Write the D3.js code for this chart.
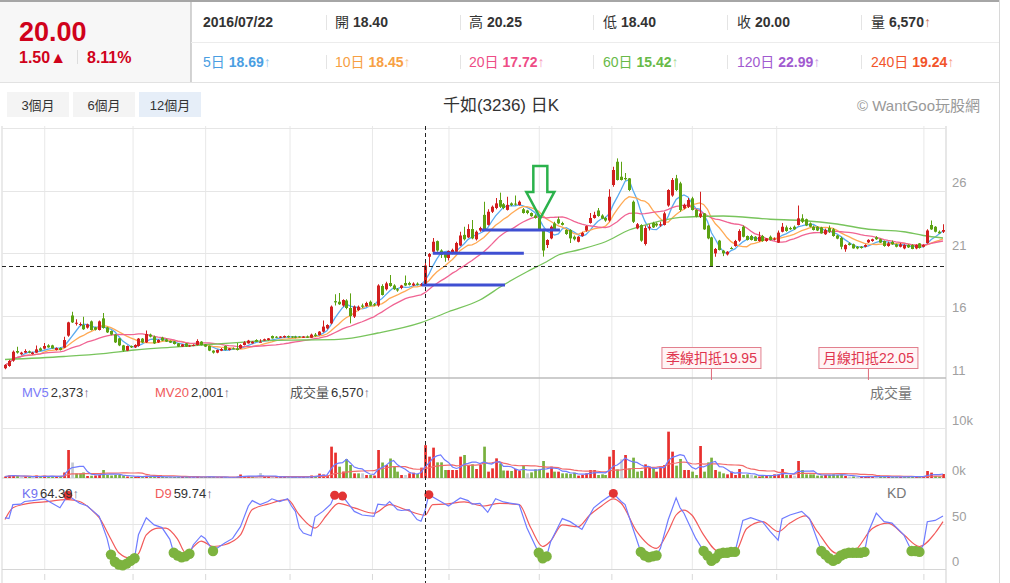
<!DOCTYPE html>
<html>
<head>
<meta charset="utf-8">
<title>千如(3236) 日K</title>
<script src="https://cdn.jsdelivr.net/npm/d3@7/dist/d3.min.js"></script>
<style>
  body { margin: 0; background: #fff; }
  svg text { font-family: "Liberation Sans", Arial, "Noto Sans CJK TC", sans-serif; }
</style>
</head>
<body>
<svg id="chart" width="1010" height="583"></svg>
<script>
(function () {

  'use strict';

  // daily candles: [open, high, low, close]
  var candles = [
    [11.78,12.1,11.7,12.04],[11.96,12.45,11.9,12.36],[12.39,13.2,12.3,13.1],[13.16,13.5,12.95,13.03],[12.9,13.1,12.85,13.03],
    [13.03,13.3,13.0,13.16],[13.13,13.2,12.98,13.03],[12.92,13.1,12.88,13.03],[13.03,13.6,13.0,13.29],[13.37,13.45,13.15,13.19],
    [13.35,13.8,13.3,13.56],[13.61,13.7,13.42,13.45],[13.61,13.66,13.35,13.37],[13.24,13.45,13.2,13.4],[13.4,13.45,13.2,13.24],
    [13.43,14.3,13.4,14.04],[14.39,15.5,14.3,15.45],[16.0,16.3,15.4,15.45],[15.4,15.7,15.2,15.42],[15.3,15.45,15.15,15.32],
    [15.24,15.9,14.85,14.9],[15.03,15.35,14.95,15.29],[15.53,15.6,14.8,14.84],[15.05,15.1,14.8,14.86],[14.84,15.6,14.8,15.53],
    [15.77,16.2,14.95,15.0],[15.05,15.1,14.6,14.65],[14.76,14.8,14.42,14.47],[14.47,14.5,13.8,13.85],[14.17,14.2,13.55,13.61],
    [13.61,13.65,13.1,13.19],[13.19,13.6,13.15,13.56],[13.56,13.6,13.4,13.45],[13.45,13.7,13.4,13.64],[13.56,14.2,13.5,14.15],
    [14.15,14.2,13.8,13.85],[13.85,14.8,13.8,14.52],[14.47,14.55,14.25,14.31],[14.31,14.4,13.72,13.77],[13.85,14.1,13.8,14.04],
    [14.23,14.3,13.95,13.99],[14.09,14.15,13.88,13.91],[13.96,14.0,13.8,13.83],[13.93,13.96,13.68,13.72],[13.77,13.8,13.48,13.51],
    [13.51,13.72,13.48,13.69],[13.77,13.8,13.48,13.51],[13.58,13.65,13.5,13.6],[13.6,13.7,13.55,13.64],[13.64,14.1,13.6,13.96],
    [13.91,13.95,13.6,13.64],[13.69,13.72,13.48,13.51],[13.56,13.6,13.15,13.19],[13.19,13.22,12.95,13.03],[13.03,13.28,12.98,13.24],
    [13.19,13.4,13.15,13.32],[13.56,13.6,13.2,13.24],[13.24,13.4,13.2,13.37],[13.37,13.45,13.3,13.35],[13.37,13.8,13.2,13.24],
    [13.37,13.7,13.33,13.64],[13.64,13.95,13.6,13.85],[13.77,14.05,13.75,13.99],[13.77,13.95,13.75,13.9],[14.04,14.1,13.88,13.9],
    [13.86,14.1,13.85,13.9],[14.0,14.15,13.98,14.1],[14.04,14.2,14.0,14.17],[14.36,14.4,14.15,14.17],[14.3,14.35,14.2,14.24],
    [14.22,14.35,14.2,14.32],[14.25,14.4,14.22,14.36],[14.36,14.4,14.22,14.25],[14.32,14.35,14.2,14.26],[14.32,14.38,14.18,14.22],
    [14.32,14.35,14.22,14.26],[14.22,14.35,14.2,14.32],[14.32,14.4,14.2,14.22],[14.22,14.55,14.2,14.47],[14.47,14.6,14.3,14.36],
    [14.44,14.75,14.4,14.71],[14.71,15.6,14.65,15.11],[14.97,15.3,14.9,15.24],[15.37,16.8,15.3,16.71],[17.15,17.7,16.8,17.05],
    [17.1,17.8,16.85,16.9],[16.8,17.3,16.7,17.24],[17.2,17.3,16.5,16.6],[16.6,17.77,15.37,15.95],[15.91,16.8,15.8,16.71],
    [16.44,16.8,16.35,16.7],[16.8,16.95,16.6,16.7],[16.75,17.1,16.7,17.0],[17.1,17.2,16.75,16.8],[16.9,17.0,16.75,16.85],
    [16.8,18.5,16.7,18.4],[18.36,18.5,17.6,17.64],[18.1,18.7,18.0,18.57],[18.6,19.24,18.3,18.36],[18.4,18.5,18.05,18.1],
    [18.1,18.2,17.9,18.0],[18.2,18.45,18.1,18.4],[18.6,19.2,18.35,18.4],[18.6,18.7,18.4,18.45],[18.4,18.65,18.35,18.55],
    [18.55,18.65,18.4,18.45],[18.4,18.6,18.35,18.5],[18.4,20.25,18.4,20.0],[20.7,21.0,19.9,20.92],[21.1,22.2,21.0,21.9],
    [21.95,22.0,21.1,21.2],[21.2,21.3,20.6,20.85],[20.95,21.0,20.3,20.63],[20.6,21.2,20.4,21.16],[21.0,21.35,20.9,21.25],
    [21.1,21.9,21.05,21.8],[21.6,22.7,21.55,22.4],[22.45,23.1,22.0,22.1],[22.25,23.3,22.2,22.92],[22.92,23.64,22.1,22.17],
    [22.1,22.8,22.0,22.7],[22.8,23.1,22.7,23.0],[24.05,25.1,22.85,22.9],[23.25,24.5,23.2,24.3],[24.3,24.8,24.2,24.7],
    [24.6,25.4,24.5,24.97],[25.24,25.83,24.6,24.7],[24.9,25.0,24.5,24.6],[24.45,25.5,24.4,24.85],[24.97,25.05,24.75,24.84],
    [24.95,25.6,24.8,24.9],[24.84,25.2,24.8,25.1],[24.5,24.6,24.15,24.2],[24.4,24.45,24.1,24.2],[24.2,24.25,23.9,23.95],
    [24.0,24.1,23.75,23.8],[23.8,23.85,22.85,22.9],[22.9,22.95,20.71,21.2],[21.64,22.1,21.4,22.04],[22.17,23.2,22.1,23.1],
    [23.37,23.5,22.85,22.92],[23.7,23.9,23.3,23.37],[23.4,23.5,23.2,23.25],[22.84,22.9,22.45,22.52],[22.84,22.9,21.8,22.17],
    [22.3,22.4,22.0,22.1],[21.9,22.35,21.85,22.3],[22.36,22.7,22.3,22.6],[22.8,23.2,22.7,23.15],[23.4,24.2,23.35,23.8],
    [23.8,24.3,23.75,24.05],[24.4,24.6,23.9,23.96],[24.0,24.1,23.7,23.75],[23.8,23.9,23.5,23.6],[23.6,26.1,23.5,25.5],
    [26.44,27.9,26.3,27.64],[28.3,28.57,26.8,26.84],[27.1,28.3,26.8,26.84],[27.0,27.4,26.8,26.9],[26.97,27.0,25.95,26.04],
    [25.1,25.2,23.4,23.5],[22.97,23.4,22.9,23.3],[23.24,23.3,21.9,21.99],[21.72,23.2,21.6,23.0],[23.0,23.3,22.8,23.1],
    [23.4,23.5,23.0,23.05],[23.35,23.45,23.1,23.2],[23.2,23.5,23.1,23.3],[23.24,24.3,23.2,24.17],[24.8,26.1,24.7,26.04],
    [25.6,27.0,25.5,26.84],[26.97,27.25,25.95,26.04],[26.57,26.7,24.3,24.44],[24.57,24.95,24.5,24.84],[24.7,25.4,24.6,25.24],
    [25.37,25.5,24.4,24.44],[24.44,24.5,23.85,23.9],[23.9,25.9,23.8,24.17],[24.17,24.2,22.85,22.89],[23.19,23.25,22.1,22.17],
    [22.25,22.3,19.9,19.95],[20.97,21.4,20.7,21.32],[21.99,22.05,21.2,21.24],[21.19,21.25,20.75,20.97],[20.89,21.15,20.8,21.1],
    [21.4,21.5,21.3,21.35],[21.56,22.05,21.5,21.96],[21.99,22.9,21.9,22.76],[23.1,23.2,22.25,22.3],[22.36,22.4,22.0,22.04],
    [22.36,22.45,22.0,22.04],[22.3,22.35,21.95,21.96],[21.96,22.7,21.9,22.3],[22.36,22.45,21.9,21.96],[21.96,22.2,21.9,22.17],
    [22.3,22.4,22.0,22.04],[22.1,22.25,22.0,22.15],[21.83,22.8,21.8,22.63],[22.7,23.4,22.65,23.1],[23.05,23.2,22.7,22.76],
    [23.0,23.1,22.85,22.9],[23.1,23.2,22.85,22.9],[23.24,24.8,23.2,23.77],[23.77,24.1,23.4,23.5],[23.7,23.75,23.15,23.2],
    [23.37,23.45,23.05,23.1],[23.1,23.2,22.8,22.84],[23.1,23.15,22.75,22.8],[23.05,23.1,22.55,22.57],[22.5,22.95,22.45,22.84],
    [23.0,23.2,22.6,22.7],[22.9,23.0,22.3,22.36],[22.4,22.45,22.1,22.15],[22.2,22.3,21.3,21.5],[21.3,21.7,21.1,21.64],
    [21.77,21.85,21.6,21.64],[21.7,21.75,21.35,21.37],[21.5,21.55,21.3,21.37],[21.5,21.55,21.35,21.4],[21.5,21.7,21.45,21.64],
    [21.85,22.1,21.8,22.05],[21.96,22.15,21.9,22.1],[22.26,22.35,22.05,22.1],[22.1,22.15,21.8,21.83],[21.96,22.0,21.5,21.56],
    [21.56,21.9,21.5,21.77],[21.88,22.0,21.65,21.69],[21.69,21.75,21.45,21.5],[21.5,21.8,21.45,21.69],[21.37,21.7,21.3,21.64],
    [21.64,21.7,21.4,21.45],[21.64,21.7,21.3,21.32],[21.37,21.7,21.3,21.64],[21.77,21.8,21.35,21.4],[21.5,21.7,21.45,21.64],
    [21.8,22.9,21.75,22.8],[23.24,23.6,22.85,22.89],[23.1,23.15,22.65,22.7],[22.7,22.8,22.55,22.57],[22.7,23.3,22.6,22.84]
  ];

  // daily volume (lots)
  var volumes = [
    300, 500, 600, 400, 200, 300, 250, 200, 500, 250,
    450, 300, 350, 200, 250, 1100, 5600, 3100, 900, 900,
    1100, 400, 450, 500, 600, 1600, 600, 500, 600, 600,
    500, 300, 200, 250, 400, 250, 450, 250, 300, 200,
    250, 200, 150, 200, 250, 200, 200, 150, 150, 300,
    200, 200, 250, 200, 150, 200, 150, 100, 150, 200,
    700, 400, 350, 250, 200, 1000, 250, 300, 250, 150,
    200, 250, 150, 150, 200, 150, 200, 150, 500, 350,
    870, 700, 500, 6270, 5070, 2270, 1300, 3800, 2600, 930,
    930, 930, 600, 600, 500, 5600, 3100, 2600, 3900, 2300,
    1270, 600, 600, 930, 1070, 800, 2070, 6570, 4270, 6070,
    3130, 3130, 1600, 1600, 1600, 1600, 4270, 4600, 2600, 2730,
    1800, 2600, 6270, 1270, 1930, 3930, 2930, 1500, 1470, 1400,
    1800, 1470, 2600, 930, 1130, 1730, 1730, 3400, 1070, 2270,
    1270, 1270, 930, 930, 800, 1070, 470, 600, 930, 1600,
    1600, 600, 730, 600, 4270, 5600, 1730, 3730, 4600, 1930,
    4070, 1270, 1400, 2730, 2270, 1930, 1270, 2270, 2600, 9270,
    5270, 2470, 3800, 1600, 1600, 1270, 600, 6400, 1270, 3130,
    4070, 1600, 1270, 930, 730, 1270, 600, 1800, 600, 730,
    600, 470, 300, 600, 470, 600, 730, 730, 1800, 600,
    600, 470, 3400, 1600, 730, 730, 730, 470, 470, 600,
    600, 730, 600, 730, 400, 300, 300, 250, 200, 300,
    250, 300, 250, 300, 200, 250, 200, 250, 200, 300,
    250, 300, 250, 300, 250, 1400, 1070, 400, 300, 800
  ];

  // 60-day line (its start needs days not shown)
  var ma60Index = [0, 15, 25, 33, 42, 50, 59, 67, 76, 85, 95, 106, 113, 121, 127, 133, 138, 141, 146, 153, 159, 164, 172, 178, 183, 195, 203, 212, 220, 229, 234, 239];
  var ma60Value = [12.48, 12.72, 12.95, 13.24, 13.45, 13.64, 13.83, 13.99, 14.04, 14.09, 14.6, 15.43, 16.3, 17.24, 18.44, 19.5, 20.3, 20.84, 21.24, 21.9, 22.84, 23.32, 23.85, 23.93, 23.96, 23.7, 23.6, 23.32, 22.9, 22.7, 22.4, 22.2];

  // K9 and D9: [candle index, value]
  var kPoints = [
    [0,57],[1,56],[2,71.5],[4,72],[5,75],[7,76],[10,78],[12,73],[14,68],[16,82],[17,79],[19,73],[21,70],[22,66],
    [24,58.5],[26,34],[27,16],[28,8],[29,5],[30,4],[31,6],[32,9],[33,12],[34,38],[36,57],[38,49],[40,46],[42,33],
    [43,18],[44,15],[45,13],[46,14],[47,17],[48,27],[50,37],[51,34],[53,20],[54,23],[56,29],[58,34],[60,47],[62,70],
    [63,76],[65,71.5],[67,75],[68,78],[70,75],[72,78],[73,70],[74,64],[75,45.5],[76,40],[78,37],[79,58],[81,64],[83,72],
    [84,82],[86,81],[89,64],[91,60],[94,58.5],[95,72],[97,71],[98,75],[100,66],[101,65],[103,66],[105,55],[106,53],
    [107,64.39],[108,82.6],[111,75],[113,70],[116,79],[118,76],[119,72],[121,73],[123,63],[125,78],[127,74.5],[129,73],
    [131,71.5],[133,45.5],[135,27],[136,18],[137,12],[138,14],[139,30],[142,56],[144,52.6],[147,44],[148,52],[150,68],
    [152,75],[155,84],[157,75],[158,71.5],[160,45],[162,19],[163,15],[164,13],[165,14],[166,15],[167,23],[169,55],
    [170,67],[171,79],[172,68],[173,62],[174,52.6],[176,34],[178,20],[179,15],[180,9],[181,12],[182,17],[183,18],
    [184,18],[185,19],[186,19],[188,54],[190,57],[193,52.6],[195,41.5],[197,32],[198,56],[200,60],[203,64],[205,56],
    [208,20],[209,16],[210,12],[211,9],[212,11],[213,15],[214,17],[215,18],[216,18],[217,18],[218,18],[219,19],
    [220,41.5],[222,62],[224,52.6],[226,51],[229,38],[231,20],[232,20],[233,19],[234,27],[235,52.6],[237,54],[239,59]
  ];
  var dPoints = [
    [0,55],[2,68],[5,72],[10,74.5],[16,77],[19,75],[22,66],[24,57],[27,33],[29,18],[32,12],[34,17],[36,38],[39,45.5],
    [41,45.5],[44,33],[46,18],[50,31],[53,25],[56,27],[60,38],[63,66],[67,72],[72,77],[75,60],[79,45.5],[82,60],
    [85,73],[89,68],[94,62],[98,71.5],[102,66],[107,59.74],[109,71.5],[112,72],[117,74.5],[122,70],[126,73],[131,71.5],
    [134,45.5],[137,25],[139,31],[142,49],[146,47],[149,60],[152,70],[155,78],[157,73],[161,41.5],[166,23],[169,42],
    [171,60],[173,65.5],[175,60],[178,38],[182,19],[186,19],[189,45],[193,52.6],[197,41.5],[200,51],[204,59],[207,41.5],
    [212,17.4],[216,19],[221,45],[225,51],[229,38],[233,25],[237,40],[239,52.6]
  ];

  var priceTicks = [11, 16, 21, 26];
  var volumeTicks = [0, 10000];
  var kdTicks = [0, 50];
  var monthTicks = [10, 32.5, 51, 72.5, 93.5, 113, 136, 154.5, 175, 196.5, 234];

  var hoverIndex = 107;
  var hoverDate = '2016/07/22';
  var quoteLabels = ['開', '高', '低', '收', '量'];
  var quoteValues = ['18.40', '20.25', '18.40', '20.00', '6,570'];
  var maLabels = ['5日', '10日', '20日', '60日', '120日', '240日'];
  var maValues = ['18.69', '18.45', '17.72', '15.42', '22.99', '19.24'];
  var maColors = ['#4a9ee2', '#f7a043', '#ee4d86', '#68ba48', '#a15ad0', '#f2542a'];

  // hand drawn marks: [price, from index, to index]
  var supportLines = [[18.44, 106.2, 127.4], [20.98, 109, 132.2], [22.84, 121.4, 141.4]];
  var arrowMark = { index: 136.4, top: 27.96, tip: 23.8 };
  var deductLabels = ['季線扣抵', '月線扣抵'];
  var deductValues = ['19.95', '22.05'];
  var deductIndex = [180, 220];

  var svg = d3.select('#chart');
  var plotLeft = 2, plotRight = 946;

  var x = d3.scaleLinear().domain([0, candles.length - 1]).range([5, 943]);
  var yPrice = d3.scaleLinear().domain([11, 31]).range([378, 128]);
  var yVol = d3.scaleLinear().domain([0, 20000]).range([478, 378]);
  var yKD = d3.scaleLinear().domain([0, 100]).range([569, 479]);

  var closes = candles.map(function (c) { return c[3]; });

  function movingAverage(values, n) {
    return values.map(function (v, i) {
      return d3.mean(values.slice(Math.max(0, i - n + 1), i + 1));
    });
  }

  // ---------- header ----------
  svg.append('rect').attr('x', 0).attr('y', 2).attr('width', 191).attr('height', 80).attr('fill', '#f7f7f7');
  svg.append('line').attr('x1', 0).attr('x2', 1000).attr('y1', 1).attr('y2', 1).attr('stroke', '#888').attr('stroke-width', 1.5);
  svg.append('line').attr('x1', 191).attr('x2', 191).attr('y1', 2).attr('y2', 82).attr('stroke', '#aaa');
  svg.append('line').attr('x1', 191).attr('x2', 1000).attr('y1', 42.5).attr('y2', 42.5).attr('stroke', '#ececec');
  svg.append('line').attr('x1', 0).attr('x2', 1000).attr('y1', 82.5).attr('y2', 82.5).attr('stroke', '#e2e2e2');
  svg.append('line').attr('x1', 999.5).attr('x2', 999.5).attr('y1', 0).attr('y2', 583).attr('stroke', '#d8d8d8');

  svg.append('text').attr('x', 19).attr('y', 41).attr('font-size', 27).attr('font-weight', 'bold')
    .attr('fill', '#d0021b').text(quoteValues[3]);
  svg.append('text').attr('x', 19).attr('y', 63).attr('font-size', 16).attr('font-weight', 'bold')
    .attr('fill', '#d0021b').text('1.50▲');
  svg.append('line').attr('x1', 77.5).attr('x2', 77.5).attr('y1', 50).attr('y2', 64).attr('stroke', '#ddd');
  svg.append('text').attr('x', 87).attr('y', 63).attr('font-size', 16).attr('font-weight', 'bold')
    .attr('fill', '#d0021b').text('8.11%');

  var cellX = [203, 335, 469, 603, 737, 871];
  [326, 460, 593, 727, 861].forEach(function (sx) {
    svg.append('line').attr('x1', sx + 0.5).attr('x2', sx + 0.5).attr('y1', 15).attr('y2', 30).attr('stroke', '#e4e4e4');
    svg.append('line').attr('x1', sx + 0.5).attr('x2', sx + 0.5).attr('y1', 55).attr('y2', 69).attr('stroke', '#e4e4e4');
  });

  svg.append('text').attr('x', cellX[0]).attr('y', 27).attr('font-size', 14).attr('font-weight', 'bold')
    .attr('fill', '#333').text(hoverDate);
  quoteLabels.forEach(function (lab, i) {
    var t = svg.append('text').attr('x', cellX[i + 1]).attr('y', 27).attr('font-size', 14).attr('fill', '#333');
    t.append('tspan').text(lab + ' ');
    t.append('tspan').attr('font-weight', 'bold').text(quoteValues[i]);
    if (lab === '量') t.append('tspan').attr('fill', '#c9785a').text('↑');
  });
  maLabels.forEach(function (lab, i) {
    var t = svg.append('text').attr('x', cellX[i]).attr('y', 67).attr('font-size', 14).attr('fill', maColors[i]);
    t.append('tspan').text(lab + ' ');
    t.append('tspan').attr('font-weight', 'bold').text(maValues[i]);
    t.append('tspan').attr('fill-opacity', 0.6).text('↑');
  });

  // range buttons and title
  var buttons = ['3個月', '6個月', '12個月'];
  buttons.forEach(function (b, i) {
    svg.append('rect').attr('x', 7 + i * 66).attr('y', 92).attr('width', 62).attr('height', 25)
      .attr('fill', i === 2 ? '#e6eef8' : '#f4f4f4');
    svg.append('text').attr('x', 38 + i * 66).attr('y', 109.5).attr('text-anchor', 'middle')
      .attr('font-size', 13).attr('fill', '#333').text(b);
  });
  svg.append('text').attr('x', 501).attr('y', 111).attr('text-anchor', 'middle').attr('font-size', 17)
    .attr('fill', '#333').text('千如(3236) 日K');
  svg.append('text').attr('x', 980).attr('y', 111).attr('text-anchor', 'end').attr('font-size', 15)
    .attr('fill', '#999').text('© WantGoo玩股網');

  // ---------- grid ----------
  var grid = svg.append('g');
  grid.append('line').attr('x1', plotLeft).attr('x2', plotLeft).attr('y1', 126).attr('y2', 583).attr('stroke', '#d5d5d5');
  grid.append('line').attr('x1', plotRight).attr('x2', plotRight).attr('y1', 126).attr('y2', 583).attr('stroke', '#cfcfcf');

  grid.append('g').attr('transform', 'translate(0,569)')
    .call(d3.axisBottom(x).tickValues(monthTicks).tickSize(-(569 - 126)).tickFormat(''))
    .call(function (g) { g.select('.domain').remove(); })
    .selectAll('line').attr('stroke', '#e8e8e8');
  grid.append('g').attr('transform', 'translate(0,574)')
    .call(d3.axisBottom(x).tickValues(monthTicks).tickSize(6).tickFormat(''))
    .call(function (g) { g.select('.domain').remove(); })
    .selectAll('line').attr('stroke', '#d8d8d8');

  function hLine(y, color, w) {
    grid.append('line').attr('x1', plotLeft).attr('x2', plotRight).attr('y1', y).attr('y2', y)
      .attr('stroke', color).attr('stroke-width', w || 1);
  }
  priceTicks.concat([31]).forEach(function (p) { if (p !== 11) hLine(Math.round(yPrice(p)) + 0.5, '#e6e6e6'); });
  hLine(yVol(volumeTicks[1]) + 0.5, '#e6e6e6');
  hLine(yKD(kdTicks[1]) + 0.5, '#e6e6e6');
  hLine(378, '#bdbdbd', 1.5);
  hLine(478, '#cfcfcf', 1.2);
  hLine(569.5, '#d6d6d6', 1.2);

  function rightAxis(scale, ticks, fmt) {
    svg.append('g').attr('transform', 'translate(' + plotRight + ',0)')
      .call(d3.axisRight(scale).tickValues(ticks).tickSize(0).tickPadding(6).tickFormat(fmt))
      .call(function (g) { g.select('.domain').remove(); })
      .selectAll('text').attr('dy', -4).attr('font-size', 13).attr('fill', '#a0a0a0')
      .attr('font-family', '"Liberation Sans", Arial, sans-serif');
  }
  rightAxis(yPrice, priceTicks, d3.format('d'));
  rightAxis(yVol, volumeTicks, function (d) { return (d / 1000) + 'k'; });
  rightAxis(yKD, kdTicks, d3.format('d'));

  // ---------- price panel ----------
  var ma = [
    { v: movingAverage(closes, 5), c: '#5aabf0' },
    { v: movingAverage(closes, 10), c: '#ffaa55' },
    { v: movingAverage(closes, 20), c: '#f06493' }
  ];
  var priceLine = d3.line().x(function (d, i) { return x(i); }).y(function (d) { return yPrice(d); });
  ma.forEach(function (m) {
    svg.append('path').attr('d', priceLine(m.v)).attr('fill', 'none').attr('stroke', m.c).attr('stroke-width', 1.3);
  });
  svg.append('path')
    .attr('d', d3.line().curve(d3.curveMonotoneX)
      .x(function (d, i) { return x(ma60Index[i]); })
      .y(function (d) { return yPrice(d); })(ma60Value))
    .attr('fill', 'none').attr('stroke', '#78c45c').attr('stroke-width', 1.3);

  function candleColor(d) { return d[3] >= d[0] ? '#d21f1f' : '#5ca212'; }
  var bodyW = 3;
  var cg = svg.append('g').selectAll('g').data(candles).join('g');
  cg.append('line')
    .attr('x1', function (d, i) { return Math.round(x(i)) + 0.5; })
    .attr('x2', function (d, i) { return Math.round(x(i)) + 0.5; })
    .attr('y1', function (d) { return yPrice(d[1]); })
    .attr('y2', function (d) { return yPrice(d[2]); })
    .attr('stroke', candleColor);
  cg.append('rect')
    .attr('x', function (d, i) { return Math.round(x(i)) + 0.5 - bodyW / 2; })
    .attr('y', function (d) { return yPrice(Math.max(d[0], d[3])); })
    .attr('width', bodyW)
    .attr('height', function (d) { return Math.max(1, Math.abs(yPrice(d[0]) - yPrice(d[3]))); })
    .attr('fill', candleColor);

  // drawn support lines and arrow
  supportLines.forEach(function (s) {
    svg.append('line').attr('x1', x(s[1])).attr('x2', x(s[2])).attr('y1', yPrice(s[0])).attr('y2', yPrice(s[0]))
      .attr('stroke', '#3f4fd2').attr('stroke-width', 3);
  });
  var ax = x(arrowMark.index), aTop = yPrice(arrowMark.top), aTip = yPrice(arrowMark.tip), aHead = aTip - 26;
  svg.append('path')
    .attr('d', 'M' + (ax - 7) + ',' + aTop + 'L' + (ax + 7) + ',' + aTop + 'L' + (ax + 7) + ',' + aHead +
      'L' + (ax + 14) + ',' + aHead + 'L' + ax + ',' + aTip + 'L' + (ax - 14) + ',' + aHead +
      'L' + (ax - 7) + ',' + aHead + 'Z')
    .attr('fill', 'none').attr('stroke', '#2bb24c').attr('stroke-width', 2.5).attr('stroke-linejoin', 'miter');

  deductIndex.forEach(function (di, i) {
    var cx = x(di);
    svg.append('line').attr('x1', cx).attr('x2', cx).attr('y1', 368).attr('y2', 380).attr('stroke', '#e06a7a');
    svg.append('rect').attr('x', cx - 49.5).attr('y', 347.5).attr('width', 99).attr('height', 21)
      .attr('fill', '#fff4f5').attr('stroke', '#e2808e');
    svg.append('text').attr('x', cx).attr('y', 363).attr('text-anchor', 'middle').attr('font-size', 14)
      .attr('fill', '#e0344f').text(deductLabels[i] + deductValues[i]);
  });

  // ---------- volume panel ----------
  function volColor(d, i) {
    if (i === 0 || closes[i] > closes[i - 1]) return '#e8302e';
    if (closes[i] < closes[i - 1]) return '#78b03e';
    return '#c5cbd1';
  }
  svg.append('g').selectAll('rect').data(volumes).join('rect')
    .attr('x', function (d, i) { return Math.round(x(i)) - 0.8; })
    .attr('y', function (d) { return yVol(d); })
    .attr('width', 2.7)
    .attr('height', function (d) { return yVol(0) - yVol(d); })
    .attr('fill', volColor);
  var volLine = d3.line().x(function (d, i) { return x(i); }).y(function (d) { return yVol(d); });
  svg.append('path').attr('d', volLine(movingAverage(volumes, 20))).attr('fill', 'none')
    .attr('stroke', '#f26a6a').attr('stroke-width', 1.2);
  svg.append('path').attr('d', volLine(movingAverage(volumes, 5))).attr('fill', 'none')
    .attr('stroke', '#6f7cff').attr('stroke-width', 1.2);

  function panelLabel(xp, yp, name, color, value) {
    var t = svg.append('text').attr('x', xp).attr('y', yp).attr('font-size', 13);
    t.append('tspan').attr('fill', color).text(name);
    t.append('tspan').attr('dx', 2).attr('fill', '#333').text(value);
    t.append('tspan').attr('fill', '#7a6a8a').text('↑');
  }
  panelLabel(22, 397, 'MV5', '#7b7bf7', '2,373');
  panelLabel(155, 397, 'MV20', '#f05a5a', '2,001');
  panelLabel(290, 397, '成交量', '#555', '6,570');
  svg.append('text').attr('x', 870).attr('y', 398).attr('font-size', 14).attr('fill', '#777').text('成交量');

  // ---------- KD panel ----------
  var kdX = function (d) { return x(d[0]); };
  svg.append('path')
    .attr('d', d3.line().curve(d3.curveMonotoneX).x(kdX).y(function (d) { return yKD(d[1]); })(dPoints))
    .attr('fill', 'none').attr('stroke', '#f25a5a').attr('stroke-width', 1.2);
  svg.append('path')
    .attr('d', d3.line().x(kdX).y(function (d) { return yKD(d[1]); })(kPoints))
    .attr('fill', 'none').attr('stroke', '#6f7cff').attr('stroke-width', 1.2);
  svg.append('g').selectAll('circle')
    .data(kPoints.filter(function (d) { return d[1] >= 80 || d[1] <= 20; }))
    .join('circle')
    .attr('cx', kdX)
    .attr('cy', function (d) { return yKD(d[1]); })
    .attr('r', function (d) { return d[1] >= 80 ? 4.5 : 5.2; })
    .attr('fill', function (d) { return d[1] >= 80 ? '#e23434' : '#7db33f'; });

  panelLabel(22, 498, 'K9', '#7070f0', '64.39');
  panelLabel(155, 498, 'D9', '#f05a5a', '59.74');
  svg.append('text').attr('x', 887).attr('y', 498).attr('font-size', 14).attr('fill', '#777').text('KD');

  // ---------- crosshair ----------
  var hx = Math.round(x(hoverIndex)) + 0.5;
  svg.append('line').attr('x1', hx).attr('x2', hx).attr('y1', 126).attr('y2', 583)
    .attr('stroke', '#222').attr('stroke-dasharray', '4,3');
  svg.append('line').attr('x1', plotLeft).attr('x2', plotRight)
    .attr('y1', Math.round(yPrice(closes[hoverIndex])) + 0.5).attr('y2', Math.round(yPrice(closes[hoverIndex])) + 0.5)
    .attr('stroke', '#222').attr('stroke-dasharray', '4,3');

})();
</script>
</body>
</html>
